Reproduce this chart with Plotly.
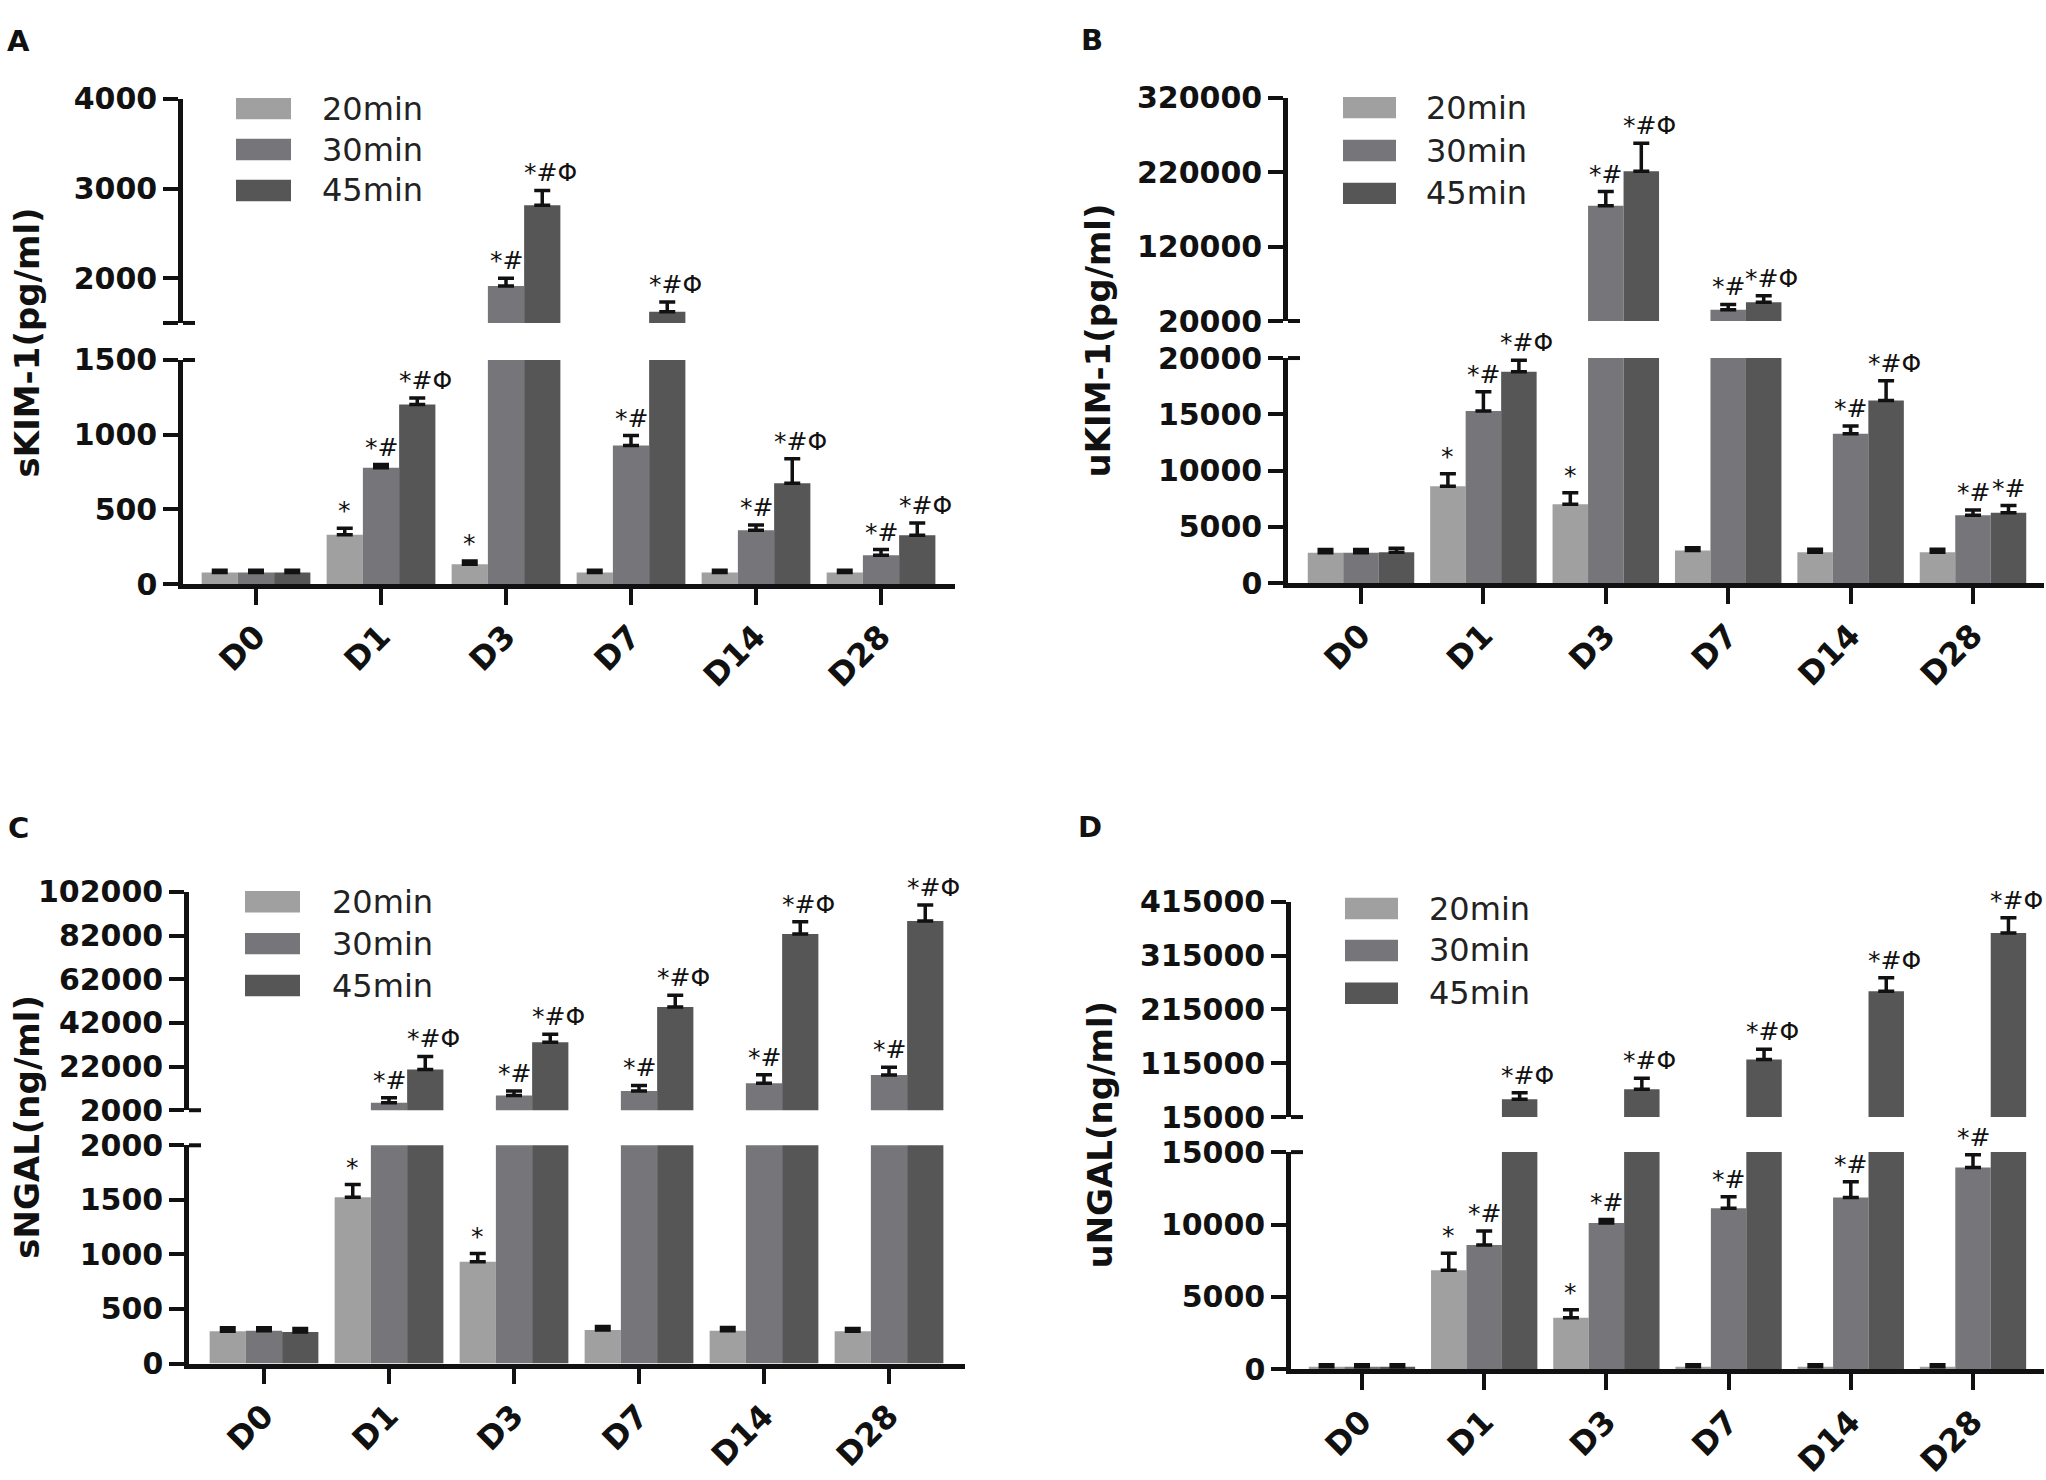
import plotly.graph_objects as go

# ---------------- data ----------------
categories = ["D0", "D1", "D3", "D7", "D14", "D28"]
series_names = ["20min", "30min", "45min"]
series_colors = ["#a0a0a0", "#76767a", "#565656"]

# Panel A: sKIM-1 (pg/ml)
skim_20 = [78, 330, 132, 78, 78, 78]
skim_30 = [78, 778, 1912, 927, 360, 193]
skim_45 = [78, 1202, 2813, 1626, 675, 327]
skim_20_sem = [14, 44, 23, 14, 14, 14]
skim_30_sem = [14, 22, 87, 67, 35, 38]
skim_45_sem = [14, 44, 165, 107, 164, 82]
skim_20_sig = ["", "*", "*", "", "", ""]
skim_30_sig = ["", "*#", "*#", "*#", "*#", "*#"]
skim_45_sig = ["", "*#Φ", "*#Φ", "*#Φ", "*#Φ", "*#Φ"]

# Panel B: uKIM-1 (pg/ml)
ukim_20 = [2700, 8600, 7000, 2900, 2750, 2750]
ukim_30 = [2700, 15300, 175000, 35200, 13270, 6020]
ukim_45 = [2750, 18780, 221500, 45200, 16220, 6260]
ukim_20_sem = [290, 1120, 1030, 250, 250, 250]
ukim_30_sem = [290, 1700, 19000, 7100, 700, 470]
ukim_45_sem = [350, 1020, 37500, 8800, 1770, 630]
ukim_20_sig = ["", "*", "*", "", "", ""]
ukim_30_sig = ["", "*#", "*#", "*#", "*#", "*#"]
ukim_45_sig = ["", "*#Φ", "*#Φ", "*#Φ", "*#Φ", "*#"]

# Panel C: sNGAL (ng/ml)
sngal_20 = [296, 1524, 932, 308, 300, 296]
sngal_30 = [300, 5380, 8760, 10750, 14330, 18100]
sngal_45 = [290, 20700, 33200, 49300, 82700, 88700]
sngal_20_sem = [32, 116, 76, 32, 30, 24]
sngal_30_sem = [28, 2390, 1990, 2580, 3970, 3600]
sngal_45_sem = [30, 5950, 3600, 5400, 5600, 7300]
sngal_20_sig = ["", "*", "*", "", "", ""]
sngal_30_sig = ["", "*#", "*#", "*#", "*#", "*#"]
sngal_45_sig = ["", "*#Φ", "*#Φ", "*#Φ", "*#Φ", "*#Φ"]

# Panel D: uNGAL (ng/ml)
ungal_20 = [190, 6840, 3570, 190, 190, 190]
ungal_30 = [190, 8590, 10100, 11130, 11860, 13940]
ungal_45 = [190, 48100, 66700, 121700, 248500, 356800]
ungal_20_sem = [130, 1180, 540, 130, 130, 130]
ungal_30_sem = [130, 970, 245, 790, 1090, 880]
ungal_45_sem = [130, 12150, 20200, 19300, 25100, 28300]
ungal_20_sig = ["", "*", "*", "", "", ""]
ungal_30_sig = ["", "*#", "*#", "*#", "*#", "*#"]
ungal_45_sig = ["", "*#Φ", "*#Φ", "*#Φ", "*#Φ", "*#Φ"]

# axis ticks (broken axes: lower / upper segments)
skim_low_ticks = [0, 500, 1000, 1500]
skim_up_ticks = [1500, 2000, 3000, 4000]
skim_up_text = ["", "2000", "3000", "4000"]
ukim_low_ticks = [0, 5000, 10000, 15000, 20000]
ukim_up_ticks = [20000, 120000, 220000, 320000]
ukim_up_text = ["20000", "120000", "220000", "320000"]
sngal_low_ticks = [0, 500, 1000, 1500, 2000]
sngal_up_ticks = [2000, 22000, 42000, 62000, 82000, 102000]
sngal_up_text = ["2000", "22000", "42000", "62000", "82000", "102000"]
ungal_low_ticks = [0, 5000, 10000, 15000]
ungal_up_ticks = [15000, 115000, 215000, 315000, 415000]
ungal_up_text = ["15000", "115000", "215000", "315000", "415000"]

panels = [
    dict(letter="A", title="sKIM-1(pg/ml)",
         values=[skim_20, skim_30, skim_45], sems=[skim_20_sem, skim_30_sem, skim_45_sem],
         sigs=[skim_20_sig, skim_30_sig, skim_45_sig],
         low_ticks=skim_low_ticks, up_ticks=skim_up_ticks, up_text=skim_up_text),
    dict(letter="B", title="uKIM-1(pg/ml)",
         values=[ukim_20, ukim_30, ukim_45], sems=[ukim_20_sem, ukim_30_sem, ukim_45_sem],
         sigs=[ukim_20_sig, ukim_30_sig, ukim_45_sig],
         low_ticks=ukim_low_ticks, up_ticks=ukim_up_ticks, up_text=ukim_up_text),
    dict(letter="C", title="sNGAL(ng/ml)",
         values=[sngal_20, sngal_30, sngal_45], sems=[sngal_20_sem, sngal_30_sem, sngal_45_sem],
         sigs=[sngal_20_sig, sngal_30_sig, sngal_45_sig],
         low_ticks=sngal_low_ticks, up_ticks=sngal_up_ticks, up_text=sngal_up_text),
    dict(letter="D", title="uNGAL(ng/ml)",
         values=[ungal_20, ungal_30, ungal_45], sems=[ungal_20_sem, ungal_30_sem, ungal_45_sem],
         sigs=[ungal_20_sig, ungal_30_sig, ungal_45_sig],
         low_ticks=ungal_low_ticks, up_ticks=ungal_up_ticks, up_text=ungal_up_text),
]

# ---------------- geometry (pixels in the 2046x1480 page) ----------------
geom = [
    dict(x0=183, x1=955, c0=256, step=125, up=(83, 313), lo=(351, 581),
         title=(27, 333), letter=(18, 24), sw=(236, 291), txt=320, rows=[93, 135, 177]),
    dict(x0=1288, x1=2044, c0=1361, step=122.4, up=(82, 311), lo=(349, 580),
         title=(1098, 331), letter=(1092, 23), sw=(1343, 1396), txt=1424, rows=[92, 136, 180]),
    dict(x0=189, x1=965, c0=264, step=125, up=(897, 1121), lo=(1157, 1381),
         title=(27, 1138), letter=(18, 831), sw=(245, 300), txt=330, rows=[907, 950, 993]),
    dict(x0=1291, x1=2044, c0=1362, step=122.2, up=(907, 1128), lo=(1164, 1387),
         title=(1100, 1146), letter=(1090, 830), sw=(1345, 1398), txt=1427, rows=[914, 957, 1001]),
]

W, H = 2046, 1480


def px(x):
    return x / W


def py(y):
    return 1 - y / H


BW = 0.29
INK = "#111111"
TICKFONT = dict(family="DejaVu Sans", size=30, color=INK, weight="bold")
XTICKFONT = dict(family="DejaVu Sans", size=32, color=INK, weight="bold")
AX = dict(showgrid=False, zeroline=False, showline=True, linewidth=4.5, linecolor=INK,
          ticks="outside", tickwidth=4, tickcolor=INK, fixedrange=True)

fig = go.Figure()
layout = {}
annotations = []
shapes = []

for i, (p, g) in enumerate(zip(panels, geom)):
    lo_n, up_n = 2 * i + 1, 2 * i + 2
    lo_s = "" if lo_n == 1 else str(lo_n)
    up_s = str(up_n)
    brk = p["low_ticks"][-1]
    ymax = p["up_ticks"][-1]
    xr = [(g["x0"] - g["c0"]) / g["step"], (g["x1"] - g["c0"]) / g["step"]]
    xdom = [px(g["x0"]), px(g["x1"])]
    idx = list(range(len(categories)))

    for k in range(3):
        vals = p["values"][k]
        sems = p["sems"][k]
        up_vals = [v if v > brk else None for v in vals]
        for s, yv in ((lo_s, vals), (up_s, up_vals)):
            fig.add_trace(go.Bar(
                x=idx, y=yv, width=BW, offset=-1.5 * BW + k * BW,
                marker=dict(color=series_colors[k], line=dict(width=0)),
                error_y=dict(type="data", symmetric=False, array=sems, arrayminus=[0] * len(vals),
                             color=INK, thickness=3.5, width=8),
                name=series_names[k], showlegend=False,
                xaxis="x" + s, yaxis="y" + s, hoverinfo="skip"))
        # significance marks
        for j, s in enumerate(p["sigs"][k]):
            if not s:
                continue
            top = vals[j] + sems[j]
            on_up = top > brk
            annotations.append(dict(
                x=j + (k - 1) * BW, y=top,
                xref="x" + (up_s if on_up else lo_s), yref="y" + (up_s if on_up else lo_s),
                text=s, showarrow=False, yanchor="bottom", xanchor="center", yshift=1,
                xshift=8 if "Φ" in s else 0,
                font=dict(family="DejaVu Sans", size=25, color=INK)))

    layout["xaxis" + lo_s] = dict(AX, domain=xdom, range=xr, anchor="y" + lo_s,
                                  tickvals=idx, ticktext=categories, tickangle=-45,
                                  ticklen=16, tickfont=XTICKFONT)
    layout["xaxis" + up_s] = dict(domain=xdom, range=xr, anchor="y" + up_s, visible=False,
                                  showgrid=False, zeroline=False, fixedrange=True)
    layout["yaxis" + lo_s] = dict(AX, domain=[py(g["lo"][1]), py(g["lo"][0])], range=[0, brk],
                                  anchor="x" + lo_s, tickvals=p["low_ticks"],
                                  ticktext=[str(t) for t in p["low_ticks"]],
                                  ticklen=15, tickfont=TICKFONT)
    layout["yaxis" + up_s] = dict(AX, domain=[py(g["up"][1]), py(g["up"][0])], range=[brk, ymax],
                                  anchor="x" + up_s, tickvals=p["up_ticks"], ticktext=p["up_text"],
                                  ticklen=15, tickfont=TICKFONT)

    # break marks: short bars crossing the axis at both ends of the gap
    for yb in (g["up"][1], g["lo"][0]):
        shapes.append(dict(type="line", xref="paper", yref="paper",
                           x0=px(g["x0"]), x1=px(g["x0"] + 12), y0=py(yb), y1=py(yb),
                           line=dict(color=INK, width=4)))

    # axis title
    annotations.append(dict(x=px(g["title"][0]), y=py(g["title"][1]), xref="paper", yref="paper",
                            text=p["title"], textangle=-90, showarrow=False,
                            xanchor="center", yanchor="middle",
                            font=dict(family="DejaVu Sans", size=34, color=INK, weight="bold")))
    # panel letter
    annotations.append(dict(x=px(g["letter"][0]), y=py(g["letter"][1]), xref="paper", yref="paper",
                            text=p["letter"], showarrow=False, xanchor="center", yanchor="middle",
                            font=dict(family="DejaVu Sans", size=29, color=INK, weight="bold")))
    # legend
    for k in range(3):
        yc = g["rows"][k]
        shapes.append(dict(type="rect", xref="paper", yref="paper",
                           x0=px(g["sw"][0]), x1=px(g["sw"][1]), y0=py(yc + 11), y1=py(yc - 11),
                           fillcolor=series_colors[k], line=dict(width=0)))
        annotations.append(dict(x=px(g["txt"]), y=py(yc), xref="paper", yref="paper",
                                text=series_names[k], showarrow=False, xanchor="left",
                                yanchor="middle",
                                font=dict(family="DejaVu Sans", size=32, color="#222222")))

fig.update_layout(
    width=W, height=H, autosize=False,
    margin=dict(l=0, r=0, t=0, b=0),
    paper_bgcolor="white", plot_bgcolor="white",
    barmode="overlay", showlegend=False,
    annotations=annotations, shapes=shapes,
    **layout)

fig.write_html("out.html", config={"displayModeBar": False},
               post_script="document.body.style.margin='0px';document.body.style.overflow='hidden';")
